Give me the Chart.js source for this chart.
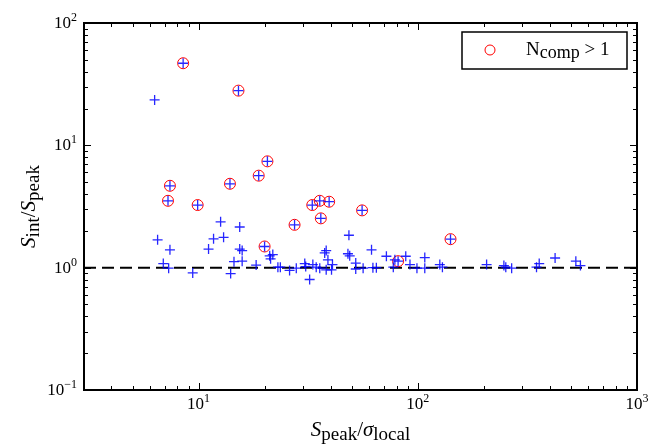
<!DOCTYPE html>
<html>
<head>
<meta charset="utf-8">
<script src="https://cdn.jsdelivr.net/npm/chart.js@4.4.0/dist/chart.umd.min.js"></script>
<style>
  html, body { margin: 0; padding: 0; background: #fff; }
  canvas { display: block; }
</style>
</head>
<body>
<canvas id="chart" width="660" height="446"></canvas>
<script>
// sources fitted with a single component
const singleX = [6.3, 6.5, 6.9, 7.4, 7.3, 9.4, 11.1, 11.7, 12.6, 13.0, 14.0, 14.5, 15.4, 15.4, 15.8,
  15.8, 18.3, 21.1, 21.8, 21.3, 23.0, 23.6, 26.0, 27.9, 30.5, 30.8, 32.1, 33.2, 34.4, 35.7,
  37.6, 38.2, 38.9, 38.2, 40.4, 40.8, 48.5, 48.0, 48.9, 52.1, 52.1, 56.3, 61.5, 62.4, 64.7,
  71.9, 77.3, 78.6, 88.1, 92.1, 99.1, 107.6, 107.6, 126, 129.5, 206, 247, 252, 268, 348,
  358, 423, 526, 552];
const singleY = [23.5, 1.69, 1.08, 1.40, 0.99, 0.905, 1.42, 1.72, 2.37, 1.77, 0.894, 1.12, 2.15, 1.42, 1.38,
  1.13, 1.05, 1.25, 1.28, 1.18, 1.01, 1.01, 0.95, 0.99, 1.08, 1.02, 0.80, 1.06, 1.01, 0.99,
  1.32, 1.38, 1.16, 0.96, 0.96, 1.06, 1.84, 1.30, 1.25, 1.09, 0.975, 0.99, 1.40, 1.0, 1.0,
  1.24, 1.01, 1.16, 1.24, 1.06, 0.99, 1.21, 0.99, 1.06, 1.01, 1.06, 1.04, 1.01, 0.99, 1.01,
  1.08, 1.2, 1.13, 1.04];

// sources needing more than one component (N_comp > 1)
const multiX = [8.5, 15.2, 20.6, 18.8, 7.4, 13.9, 7.25, 9.9, 27.4, 20.0, 33.0, 35.7, 39.4, 36.1, 55.7, 141, 81.3];
const multiY = [46.9, 28.0, 7.4, 5.65, 4.67, 4.85, 3.52, 3.25, 2.24, 1.49, 3.25, 3.52, 3.46, 2.53, 2.94, 1.71, 1.13];

const xRange = [3, 1000];
const yRange = [0.1, 100];
const xMajor = [1, 2, 3];      // exponents labelled on x
const yMajor = [-1, 0, 1, 2];  // exponents labelled on y
const unityLine = 1;

const toPts = (xs, ys) => xs.map((x, i) => ({ x, y: ys[i] }));
const allX = singleX.concat(multiX);
const allY = singleY.concat(multiY);

const SERIF = "'Liberation Serif', 'DejaVu Serif', serif";

// draw a run of text pieces, each with its own font and baseline shift
function drawRun(ctx, parts, x, y, align) {
  let total = 0;
  parts.forEach(p => { ctx.font = p.font; p.w = ctx.measureText(p.t).width; total += p.w + (p.gap || 0); });
  let cx = align === 'right' ? x - total : align === 'center' ? x - total / 2 : x;
  ctx.textAlign = 'left';
  ctx.textBaseline = 'alphabetic';
  parts.forEach(p => {
    ctx.font = p.font;
    ctx.fillText(p.t, cx, y + (p.dy || 0));
    cx += p.w + (p.gap || 0);
  });
}

function minorValues(lo, hi) {
  const out = [];
  for (let e = Math.floor(Math.log10(lo)); e <= Math.ceil(Math.log10(hi)); e++) {
    for (let m = 1; m <= 9; m++) {
      const v = m * Math.pow(10, e);
      if (v >= lo * 0.999 && v <= hi * 1.001) out.push({ v, major: m === 1 });
    }
  }
  return out;
}

const framePlugin = {
  id: 'frame',
  afterDraw(chart) {
    const { ctx, chartArea: a, scales } = chart;
    const xs = scales.x, ys = scales.y;
    ctx.save();
    ctx.strokeStyle = '#000';
    ctx.fillStyle = '#000';

    // inward ticks on all four sides
    ctx.lineWidth = 1;
    minorValues(xRange[0], xRange[1]).forEach(t => {
      const px = Math.round(xs.getPixelForValue(t.v)) + 0.5;
      const len = t.major ? 7 : 4;
      ctx.beginPath();
      ctx.moveTo(px, a.bottom); ctx.lineTo(px, a.bottom - len);
      ctx.moveTo(px, a.top); ctx.lineTo(px, a.top + len);
      ctx.stroke();
    });
    minorValues(yRange[0], yRange[1]).forEach(t => {
      const py = Math.round(ys.getPixelForValue(t.v)) + 0.5;
      const len = t.major ? 7 : 4;
      ctx.beginPath();
      ctx.moveTo(a.left, py); ctx.lineTo(a.left + len, py);
      ctx.moveTo(a.right, py); ctx.lineTo(a.right - len, py);
      ctx.stroke();
    });

    // frame
    ctx.lineWidth = 2;
    ctx.strokeRect(a.left, a.top, a.right - a.left, a.bottom - a.top);

    // tick labels 10^n
    const base = '17px ' + SERIF, sup = '12px ' + SERIF;
    xMajor.forEach(e => {
      const px = xs.getPixelForValue(Math.pow(10, e));
      drawRun(ctx, [{ t: '10', font: base }, { t: String(e).replace('-', '\u2212'), font: sup, dy: -7 }],
        px, a.bottom + 19, 'center');
    });
    yMajor.forEach(e => {
      const py = ys.getPixelForValue(Math.pow(10, e));
      drawRun(ctx, [{ t: '10', font: base }, { t: String(e).replace('-', '\u2212'), font: sup, dy: -7 }],
        a.left - 7, py + 5, 'right');
    });

    // axis titles
    const it = 'italic 21px ' + SERIF, sub = '19px ' + SERIF;
    drawRun(ctx, [
      { t: 'S', font: it }, { t: 'peak', font: sub, dy: 4 },
      { t: '/', font: '21px ' + SERIF }, { t: '\u03C3', font: it }, { t: 'local', font: sub, dy: 4 }
    ], (a.left + a.right) / 2, a.bottom + 46, 'center');

    ctx.save();
    ctx.translate(35, (a.top + a.bottom) / 2);
    ctx.rotate(-Math.PI / 2);
    drawRun(ctx, [
      { t: 'S', font: it }, { t: 'int', font: sub, dy: 4 },
      { t: '/', font: '21px ' + SERIF }, { t: 'S', font: it }, { t: 'peak', font: sub, dy: 4 }
    ], 0, 0, 'center');
    ctx.restore();

    // legend box
    const lx = 462, ly = 32, lw = 165, lh = 37;
    ctx.fillStyle = '#fff';
    ctx.fillRect(lx, ly, lw, lh);
    ctx.lineWidth = 1.5;
    ctx.strokeStyle = '#000';
    ctx.strokeRect(lx, ly, lw, lh);
    ctx.beginPath();
    ctx.arc(lx + 28, ly + 18, 5, 0, Math.PI * 2);
    ctx.strokeStyle = '#ff0000';
    ctx.lineWidth = 1;
    ctx.stroke();
    ctx.fillStyle = '#000';
    drawRun(ctx, [
      { t: 'N', font: '19px ' + SERIF }, { t: 'comp', font: '18px ' + SERIF, dy: 3 },
      { t: ' > 1', font: '19px ' + SERIF }
    ], lx + 64, ly + 23, 'left');

    ctx.restore();
  }
};

new Chart(document.getElementById('chart'), {
  type: 'scatter',
  data: {
    datasets: [
      {
        label: 'all',
        data: toPts(allX, allY),
        pointStyle: 'cross',
        pointRadius: 5,
        borderColor: 'rgba(0,0,255,0.85)',
        borderWidth: 1.3,
        order: 1
      },
      {
        label: 'N_comp > 1',
        data: toPts(multiX, multiY),
        pointStyle: 'circle',
        pointRadius: 5.5,
        backgroundColor: 'rgba(0,0,0,0)',
        borderColor: '#ff0000',
        borderWidth: 1,
        order: 2
      },
      {
        label: 'unity',
        type: 'line',
        data: [{ x: xRange[0], y: unityLine }, { x: xRange[1], y: unityLine }],
        borderColor: '#000',
        borderWidth: 2,
        borderDash: [12, 6],
        pointRadius: 0,
        fill: false,
        order: 3
      }
    ]
  },
  options: {
    responsive: false,
    animation: false,
    devicePixelRatio: 1,
    layout: { padding: { left: 84, right: 23, top: 23, bottom: 56 } },
    plugins: { legend: { display: false }, tooltip: { enabled: false } },
    scales: {
      x: { type: 'logarithmic', display: false, min: xRange[0], max: xRange[1] },
      y: { type: 'logarithmic', display: false, min: yRange[0], max: yRange[1] }
    }
  },
  plugins: [framePlugin]
});
</script>
</body>
</html>
